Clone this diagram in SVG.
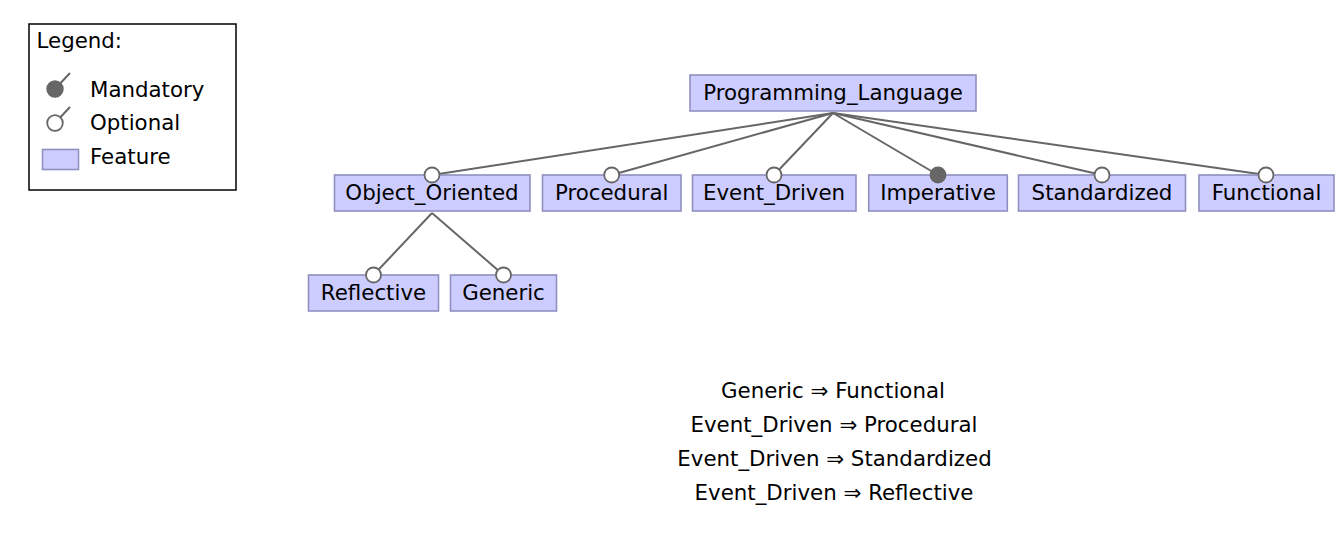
<svg xmlns="http://www.w3.org/2000/svg" width="1340" height="536" viewBox="0 0 1340 536">
<style>
text{font-family:"DejaVu Sans","Liberation Sans",sans-serif;font-size:21.33px;fill:#000}
.f{fill:#ccccff;stroke:#9090c0;stroke-width:1.6}
.c{stroke:#666;stroke-width:2;fill:none}
.opt{fill:#fff;stroke:#666;stroke-width:1.8}
.man{fill:#666;stroke:#666;stroke-width:1.8}
.m{text-anchor:middle}
</style>
<rect width="1340" height="536" fill="#fff"/>
<g id="legend">
<rect x="29" y="24" width="207" height="166" fill="#fff" stroke="#000" stroke-width="1.5"/>
<text x="36.5" y="48">Legend:</text>
<line class="c" x1="55" y1="89" x2="70" y2="73"/>
<circle class="man" cx="55" cy="89" r="7.8"/>
<text x="90" y="97">Mandatory</text>
<line class="c" x1="55" y1="123" x2="70" y2="107"/>
<circle class="opt" cx="55" cy="123" r="7.8"/>
<text x="90" y="130">Optional</text>
<rect class="f" x="42.5" y="149.5" width="36" height="20"/>
<text x="90" y="163.5">Feature</text>
</g>
<g id="connectors">
<line class="c" x1="833" y1="113" x2="432" y2="175"/>
<line class="c" x1="833" y1="113" x2="611.7" y2="175"/>
<line class="c" x1="833" y1="113" x2="774" y2="175"/>
<line class="c" x1="833" y1="113" x2="938" y2="175"/>
<line class="c" x1="833" y1="113" x2="1102" y2="175"/>
<line class="c" x1="833" y1="113" x2="1266" y2="175"/>
<line class="c" x1="432" y1="213" x2="373.5" y2="275"/>
<line class="c" x1="432" y1="213" x2="503.5" y2="275"/>
</g>
<g id="Programming_Language">
<rect class="f" x="690" y="75" width="286" height="36"/>
<text class="m" x="833" y="100">Programming_Language</text>
</g>
<g id="Object_Oriented">
<rect class="f" x="334.5" y="175" width="195.5" height="36"/>
<text class="m" x="432" y="200">Object_Oriented</text>
<circle class="opt" cx="432" cy="175" r="7.5"/>
</g>
<g id="Procedural">
<rect class="f" x="542.5" y="175" width="138.5" height="36"/>
<text class="m" x="611.7" y="200">Procedural</text>
<circle class="opt" cx="611.7" cy="175" r="7.5"/>
</g>
<g id="Event_Driven">
<rect class="f" x="692.5" y="175" width="163.5" height="36"/>
<text class="m" x="774" y="200">Event_Driven</text>
<circle class="opt" cx="774" cy="175" r="7.5"/>
</g>
<g id="Imperative">
<rect class="f" x="868.7" y="175" width="138.6" height="36"/>
<text class="m" x="938" y="200">Imperative</text>
<circle class="man" cx="938" cy="175" r="7.5"/>
</g>
<g id="Standardized">
<rect class="f" x="1018.5" y="175" width="167" height="36"/>
<text class="m" x="1102" y="200">Standardized</text>
<circle class="opt" cx="1102" cy="175" r="7.5"/>
</g>
<g id="Functional">
<rect class="f" x="1199" y="175" width="135" height="36"/>
<text class="m" x="1266.5" y="200">Functional</text>
<circle class="opt" cx="1266" cy="175" r="7.5"/>
</g>
<g id="Reflective">
<rect class="f" x="308.5" y="275" width="130" height="36"/>
<text class="m" x="373.5" y="300">Reflective</text>
<circle class="opt" cx="373.5" cy="275" r="7.5"/>
</g>
<g id="Generic">
<rect class="f" x="450.5" y="275" width="106" height="36"/>
<text class="m" x="503.5" y="300">Generic</text>
<circle class="opt" cx="503.5" cy="275" r="7.5"/>
</g>
<g id="constraints">
<text class="m" x="833" y="398">Generic ⇒ Functional</text>
<text class="m" x="834" y="432">Event_Driven ⇒ Procedural</text>
<text class="m" x="834.5" y="466">Event_Driven ⇒ Standardized</text>
<text class="m" x="834" y="500">Event_Driven ⇒ Reflective</text>
</g>
</svg>
